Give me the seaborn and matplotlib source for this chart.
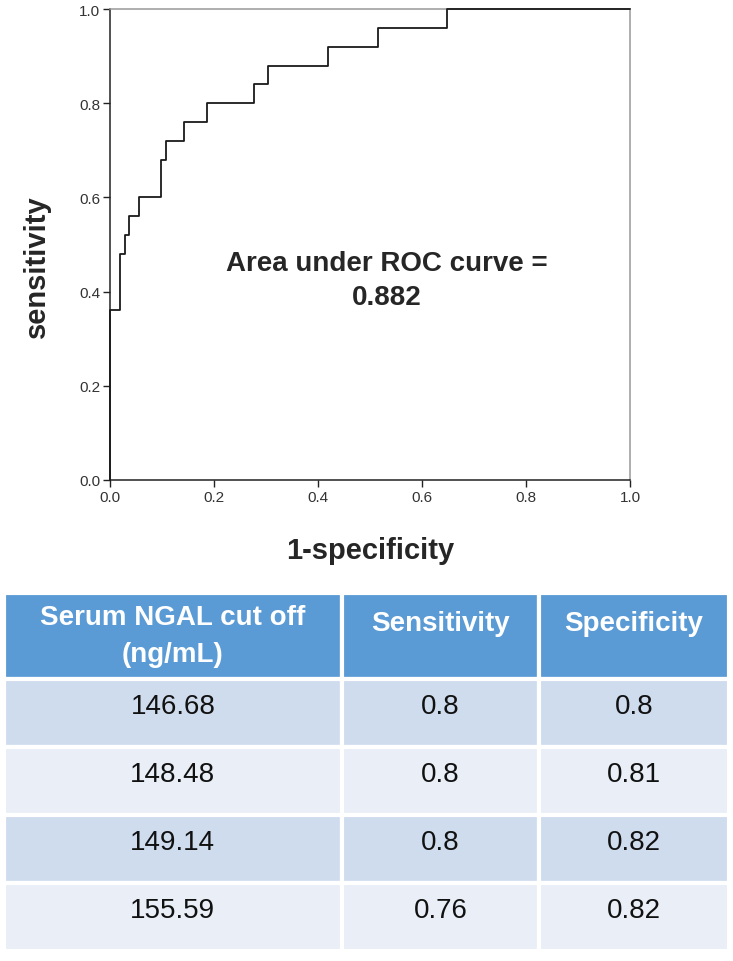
import seaborn as sns
import matplotlib.pyplot as plt
import pandas as pd

# ROC curve corners (1-specificity, sensitivity)
fpr = [0.0, 0.0, 0.020, 0.029, 0.037, 0.056, 0.098, 0.108, 0.143, 0.187,
       0.277, 0.303, 0.419, 0.516, 0.649, 1.0]
tpr = [0.0, 0.36, 0.48, 0.52, 0.56, 0.60, 0.68, 0.72, 0.76, 0.80,
       0.84, 0.88, 0.92, 0.96, 1.00, 1.00]
auc_text = "Area under ROC curve =\n0.882"

table_header = ["Serum NGAL cut off\n(ng/mL)", "Sensitivity", "Specificity"]
cutoffs = ["146.68", "148.48", "149.14", "155.59"]
sens = ["0.8", "0.8", "0.8", "0.76"]
spec = ["0.8", "0.81", "0.82", "0.82"]

sns.set_theme(style="white")
plt.rcParams['font.family'] = ['Liberation Sans', 'DejaVu Sans']

fig = plt.figure(figsize=(7.33, 9.62), dpi=100)

# ---- ROC plot
ax = fig.add_axes([110 / 733, 1 - 481 / 962, 520 / 733, 471 / 962])
df = pd.DataFrame({"fpr": fpr, "tpr": tpr})
sns.lineplot(data=df, x="fpr", y="tpr", ax=ax, estimator=None, sort=False,
             drawstyle="steps-post", color="#1a1a1a", linewidth=1.3,
             clip_on=False, zorder=5)
ax.set_xlim(0, 1)
ax.set_ylim(0, 1)
ax.set_xticks([0, 0.2, 0.4, 0.6, 0.8, 1.0])
ax.set_yticks([0, 0.2, 0.4, 0.6, 0.8, 1.0])
ax.xaxis.set_major_formatter(plt.FormatStrFormatter("%.1f"))
ax.yaxis.set_major_formatter(plt.FormatStrFormatter("%.1f"))
ax.tick_params(axis="both", direction="out", length=5, width=1.0,
               color="#222222", labelsize=11, labelcolor="#333333",
               bottom=True, left=True, pad=2)
for side in ["left", "bottom"]:
    ax.spines[side].set_color("#222222")
    ax.spines[side].set_linewidth(1.1)
for side in ["top", "right"]:
    ax.spines[side].set_color("#999999")
    ax.spines[side].set_linewidth(1.1)
ax.set_xlabel("1-specificity", fontsize=21, fontweight="bold", labelpad=23)
ax.set_ylabel("sensitivity", fontsize=21, fontweight="bold", labelpad=18)
ax.yaxis.set_label_coords(-0.114, 0.455)
ax.text(0.533, 0.425, auc_text, transform=ax.transAxes, ha="center",
        va="center", fontsize=20, fontweight="bold", linespacing=1.42)

# ---- table
tax = fig.add_axes([4 / 733, 1 - 952 / 962, 725 / 733, 358 / 962])
tax.axis("off")
rows = [list(r) for r in zip(cutoffs, sens, spec)]
row_cols = ["#cfdcee", "#e9eef7"]
cell_colours = [[row_cols[i % 2]] * 3 for i in range(len(rows))]
tbl = tax.table(cellText=rows, colLabels=table_header,
                cellColours=cell_colours, colColours=["#5b9bd5"] * 3,
                colWidths=[0.466, 0.272, 0.262], bbox=[0, 0, 1, 1],
                cellLoc="center")
tbl.auto_set_font_size(False)
for (r, c), cell in tbl.get_celld().items():
    cell.set_edgecolor("white")
    cell.set_linewidth(3)
    txt = cell.get_text()
    if r == 0:
        cell.set_height(0.24)
        txt.set_color("white")
        txt.set_fontweight("bold")
        txt.set_fontsize(20)
        txt.set_linespacing(1.55)
        if c > 0:
            txt.set_va("bottom")
    else:
        cell.set_height(0.19)
        txt.set_fontsize(20)
        txt.set_color("#111111")
        txt.set_va("baseline")

fig.savefig("out.png", dpi=100)
